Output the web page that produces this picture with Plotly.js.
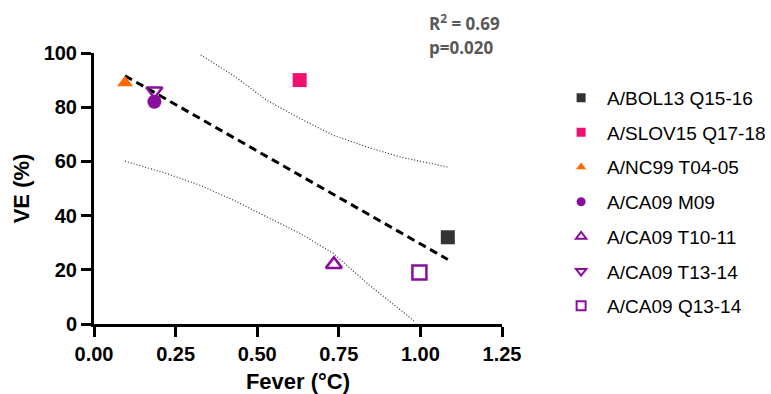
<!DOCTYPE html>
<html>
<head>
<meta charset="utf-8">
<script src="https://cdn.plot.ly/plotly-3.0.1.min.js"></script>
<style>html,body{margin:0;padding:0;background:#fff;}#chart{width:771px;height:394px;}</style>
</head>
<body>
<div id="chart"></div>
<script>
// Data points (Fever °C, VE %)
const seriesNames = ["A/BOL13 Q15-16","A/SLOV15 Q17-18","A/NC99 T04-05","A/CA09 M09","A/CA09 T10-11","A/CA09 T13-14","A/CA09 Q13-14"];
const feverValues = [1.084, 0.630, 0.095, 0.185, 0.735, 0.185, 0.997];
const veValues = [32, 90, 89, 82, 22, 86, 19];
// Regression line endpoints
const fitX = [0.095, 1.084];
const fitY = [91.6, 23.8];
// 95% confidence band curves
const upperX = [0.327, 0.427, 0.530, 0.632, 0.734, 0.837, 0.939, 1.084];
const upperY = [99.3, 91.7, 82.5, 75.8, 69.6, 65.3, 61.6, 57.9];
const lowerX = [0.095, 0.223, 0.325, 0.427, 0.530, 0.632, 0.734, 0.837, 0.980];
const lowerY = [60.1, 55.5, 51.2, 45.7, 39.5, 33.4, 26.0, 15.0, 1.2];
const xTicks = [0, 0.25, 0.5, 0.75, 1.0, 1.25];
const yTicks = [0, 20, 40, 60, 80, 100];

const colors = ["#333333","#F0106E","#FF6A00","#8B0DA0","#8B0DA0","#8B0DA0","#8B0DA0"];
const symbols = ["square","square","triangle-up","circle","triangle-up-open","triangle-down-open","square-open"];
const sizes = [14, 14, 14, 14, 14, 14, 14];

const traces = [];
traces.push({x: upperX, y: upperY, mode: "lines", line: {color: "#333", width: 1.2, dash: "1px,2px"}, showlegend: false, hoverinfo: "skip"});
traces.push({x: lowerX, y: lowerY, mode: "lines", line: {color: "#333", width: 1.2, dash: "1px,2px"}, showlegend: false, hoverinfo: "skip"});
traces.push({x: fitX, y: fitY, mode: "lines", line: {color: "#000", width: 3, dash: "8px,5px"}, showlegend: false, hoverinfo: "skip"});
for (let i = 0; i < seriesNames.length; i++) {
  const open = symbols[i].indexOf("open") >= 0;
  traces.push({
    x: [feverValues[i]], y: [veValues[i]], mode: "markers", name: seriesNames[i],
    marker: {color: colors[i], symbol: symbols[i], size: sizes[i], line: {color: colors[i], width: open ? 2.5 : 0}},
    showlegend: false, cliponaxis: false
  });
}
for (let i = 0; i < seriesNames.length; i++) {
  const open = symbols[i].indexOf("open") >= 0;
  traces.push({
    x: [null], y: [null], mode: "markers", name: seriesNames[i], legendgroup: "g" + i,
    marker: {color: colors[i], symbol: symbols[i], size: 9, line: {color: colors[i], width: open ? 2 : 0}},
    showlegend: true
  });
}

const layout = {
  width: 771, height: 394,
  margin: {l: 94, r: 269, t: 53, b: 70},
  paper_bgcolor: "#fff", plot_bgcolor: "#fff",
  font: {family: "Liberation Sans, Arial, sans-serif", color: "#000"},
  xaxis: {
    range: [0, 1.25], tickvals: xTicks, tickformat: ".2f", automargin: false,
    showline: true, linecolor: "#000", linewidth: 3, ticks: "outside", ticklen: 10, tickwidth: 3, tickcolor: "#000",
    showgrid: false, zeroline: false,
    tickfont: {family: "Liberation Sans, Arial, sans-serif", size: 20, weight: "bold", color: "#000"},
    title: {text: "<b>Fever (°C)</b>", font: {size: 22, color: "#000"}, standoff: 10}
  },
  yaxis: {
    range: [0, 100], tickvals: yTicks, automargin: false,
    showline: true, linecolor: "#000", linewidth: 3, ticks: "outside", ticklen: 10, tickwidth: 3, tickcolor: "#000",
    showgrid: false, zeroline: false,
    tickfont: {family: "Liberation Sans, Arial, sans-serif", size: 20, weight: "bold", color: "#000"},
    title: {text: "<b>VE (%)</b>", font: {size: 22, color: "#000"}, standoff: 8}
  },
  legend: {
    xref: "container", yref: "container",
    x: 0.720, xanchor: "left", y: 0.80, yanchor: "top",
    itemwidth: 42, maxheight: 380,
    font: {family: "Liberation Sans, Arial, sans-serif", size: 19, color: "#000"},
    tracegroupgap: 7, traceorder: "grouped", bgcolor: "rgba(0,0,0,0)"
  },
  annotations: [{
    xref: "paper", yref: "paper", x: 0.816, y: 1.113, xanchor: "left", yanchor: "middle", align: "left",
    text: "<b>R<sup>2</sup> = 0.69</b>", showarrow: false,
    font: {family: "Open Sans, sans-serif", size: 17, color: "#595959"}
  }, {
    xref: "paper", yref: "paper", x: 0.816, y: 1.021, xanchor: "left", yanchor: "middle", align: "left",
    text: "<b>p=0.020</b>", showarrow: false,
    font: {family: "Open Sans, sans-serif", size: 17, color: "#595959"}
  }],
  showlegend: true
};

Plotly.newPlot("chart", traces, layout, {displayModeBar: false, staticPlot: true});
</script>
</body>
</html>
